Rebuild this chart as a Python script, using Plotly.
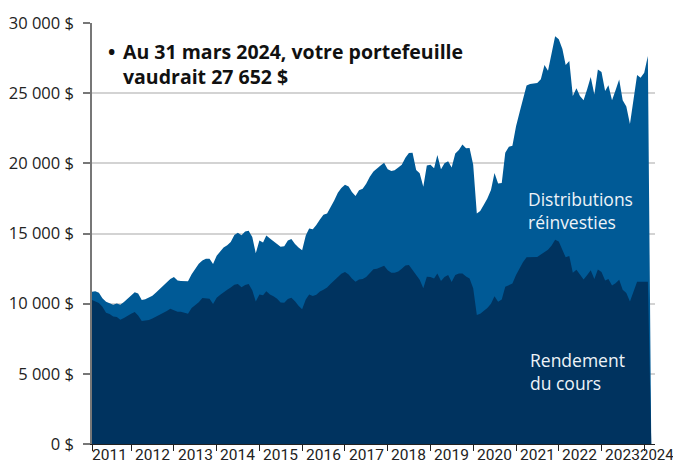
import plotly.graph_objects as go
import pandas as pd

# ---- Data (monthly) ----
valeur_totale = [
    10850, 10880, 10780, 10390, 10130, 10045, 9930, 10020, 9920, 10120, 10370,
    10620, 10820, 10720, 10270, 10320, 10430, 10560, 10800, 11050, 11240, 11550, 11750,
    11900, 11650, 11620, 11590, 11600, 12100, 12450, 12850, 13080, 13200, 13200, 12820,
    13420, 13720, 14000, 14160, 14400, 14900, 15050, 14880, 15150, 15200, 14750, 13600,
    14500, 14350, 14850, 14650, 14450, 14300, 14050, 14100, 14500, 14600, 14250, 14000,
    13800, 14850, 15350, 15300, 15600, 16000, 16330, 16420, 16850, 17350, 17900, 18250,
    18480, 18350, 17950, 17680, 18080, 18180, 18550, 19050, 19420, 19600, 19850, 20050,
    19570, 19450, 19500, 19700, 19900, 20400, 20740, 20750, 19520, 19300, 18330, 19850,
    19900, 19650, 20600, 19580, 20000, 20150, 19700, 20700, 20950, 21350, 21070, 21100,
    19900, 16430, 16600, 17050, 17500, 18100, 19320, 18570, 18600, 20750, 21180, 21250,
    22650, 23650, 24600, 25550, 25650, 25700, 25730, 26000, 27000, 26600, 28000, 29060,
    28850, 28150, 27000, 27300, 24800, 25350, 24800, 24500, 25300, 26160, 24900, 26690,
    26500, 25150, 25570, 24500, 25200, 25980, 24500, 24050, 22800, 24700, 26300, 26100,
    26450, 27652, 0,
]

rendement_cours = [
    10260, 10180, 10050, 9780, 9350, 9260, 9080, 9050, 8860, 8980, 9140,
    9290, 9400, 9150, 8770, 8790, 8830, 8950, 9070, 9200, 9360, 9480, 9640,
    9520, 9420, 9420, 9350, 9290, 9700, 9900, 10100, 10400, 10400, 10350, 9980,
    10420, 10640, 10830, 11000, 11150, 11350, 11400, 11170, 11330, 11400, 10950, 10150,
    10650, 10600, 10880, 10650, 10520, 10350, 10080, 10070, 10330, 10420, 10180, 9850,
    9600, 10300, 10650, 10540, 10640, 10870, 11000, 11150, 11420, 11670, 11940, 12130,
    12250, 12080, 11800, 11570, 11720, 11750, 11900, 12200, 12450, 12490, 12600, 12700,
    12390, 12200, 12200, 12300, 12480, 12720, 12750, 12400, 11990, 11700, 11090, 11920,
    11900, 11800, 12150, 11620, 11900, 12050, 11550, 12040, 12150, 12150, 11930, 11800,
    11100, 9190, 9290, 9500, 9700, 10000, 10520, 10140, 10300, 11200, 11330, 11430,
    12050, 12580, 12950, 13300, 13320, 13290, 13320, 13500, 13700, 13850, 14150, 14550,
    14430, 13880, 13300, 13400, 12200, 12420, 12100, 11730, 12050, 12390, 11750, 12440,
    12250, 11650, 11750, 11300, 11450, 11700, 11000, 10760, 10150, 10850, 11560, 11560,
    11560, 11560, 0,
]

annees = ["2011", "2012", "2013", "2014", "2015", "2016", "2017", "2018",
          "2019", "2020", "2021", "2022", "2023", "2024"]

y_valeurs = [0, 5000, 10000, 15000, 20000, 25000, 30000]
y_etiquettes = ["0 $", "5 000 $", "10 000 $", "15 000 $", "20 000 $", "25 000 $", "30 000 $"]

titre_ligne1 = "Au 31 mars 2024, votre portefeuille"
titre_ligne2 = "vaudrait 27 652 $"

dates = pd.date_range("2011-02-01", periods=len(valeur_totale), freq="MS")

BLEU = "#005A96"
MARINE = "#00335F"
FONT = "Open Sans"
FONT_NARROW = "Liberation Sans Narrow, Roboto, Open Sans"

fig = go.Figure()
fig.add_trace(go.Scatter(
    x=dates, y=valeur_totale, mode="lines", line=dict(width=0, color=BLEU),
    fill="tozeroy", fillcolor=BLEU, name="Distributions réinvesties",
    hoverinfo="skip"))
fig.add_trace(go.Scatter(
    x=dates, y=rendement_cours, mode="lines", line=dict(width=0, color=MARINE),
    fill="tozeroy", fillcolor=MARINE, name="Rendement du cours",
    hoverinfo="skip"))

year_ticks = [pd.Timestamp(dates[0])] + [pd.Timestamp(f"{a}-01-01") for a in annees[1:]]

fig.update_xaxes(
    type="date", automargin=False,
    range=[pd.Timestamp("2011-02-01"), pd.Timestamp("2024-04-02")],
    tickvals=year_ticks, ticks="outside", ticklen=6, tickwidth=1, tickcolor="#222",
    showticklabels=False, showgrid=False, showline=True, linecolor="#222", linewidth=1,
    zeroline=False,
)
fig.update_yaxes(
    automargin=False,
    range=[0, 30000], tickvals=y_valeurs, ticktext=y_etiquettes,
    ticks="outside", ticklen=7, tickwidth=1.5, tickcolor="#777",
    showline=True, linecolor="#777", linewidth=1.5,
    showgrid=True, gridcolor="#D3D3D3", gridwidth=1.5, zeroline=False,
    tickfont=dict(family=FONT, size=16.5, color="#222"), ticklabelstandoff=6,
)

annotations = []
# Year labels centred in each year
for a in annees[:-1]:
    annotations.append(dict(
        x=pd.Timestamp(f"{a}-07-01"), y=0, xref="x", yref="paper",
        text=a, showarrow=False, xanchor="center", yanchor="middle", yshift=-11,
        borderpad=0, font=dict(family=FONT_NARROW, size=15.5, color="#222")))
annotations.append(dict(
    x=pd.Timestamp(f"{annees[-1]}-01-01"), y=0, xref="x", yref="paper",
    text=annees[-1], showarrow=False, xanchor="left", yanchor="middle", yshift=-11,
    xshift=-5, borderpad=0, font=dict(family=FONT_NARROW, size=15, color="#222")))

# Headline
annotations.append(dict(
    x=0.024, y=0.968, xref="paper", yref="paper", text="<b>•</b>", showarrow=False,
    xanchor="left", yanchor="top", font=dict(family=FONT, size=19.5, color="#111")))
annotations.append(dict(
    x=0.052, y=0.968, xref="paper", yref="paper",
    text=f"<b>{titre_ligne1}<br>{titre_ligne2}</b>", showarrow=False, align="left",
    xanchor="left", yanchor="top", font=dict(family=FONT, size=19.5, color="#111")))

# Series labels
annotations.append(dict(
    x=0.77, y=0.615, xref="paper", yref="paper", text="Distributions<br>réinvesties",
    showarrow=False, align="left", xanchor="left", yanchor="top",
    font=dict(family=FONT, size=17.5, color="#EEF3F8")))
annotations.append(dict(
    x=0.775, y=0.232, xref="paper", yref="paper", text="Rendement<br>du cours",
    showarrow=False, align="left", xanchor="left", yanchor="top",
    font=dict(family=FONT, size=17.5, color="#EEF3F8")))

fig.update_layout(
    width=673, height=464,
    margin=dict(l=92, r=18, t=23, b=20, autoexpand=False),
    paper_bgcolor="white", plot_bgcolor="white",
    showlegend=False, annotations=annotations,
    font=dict(family=FONT),
)

fig.write_html("out.html", config={"displayModeBar": False},
               post_script="document.body.style.margin='0';")
